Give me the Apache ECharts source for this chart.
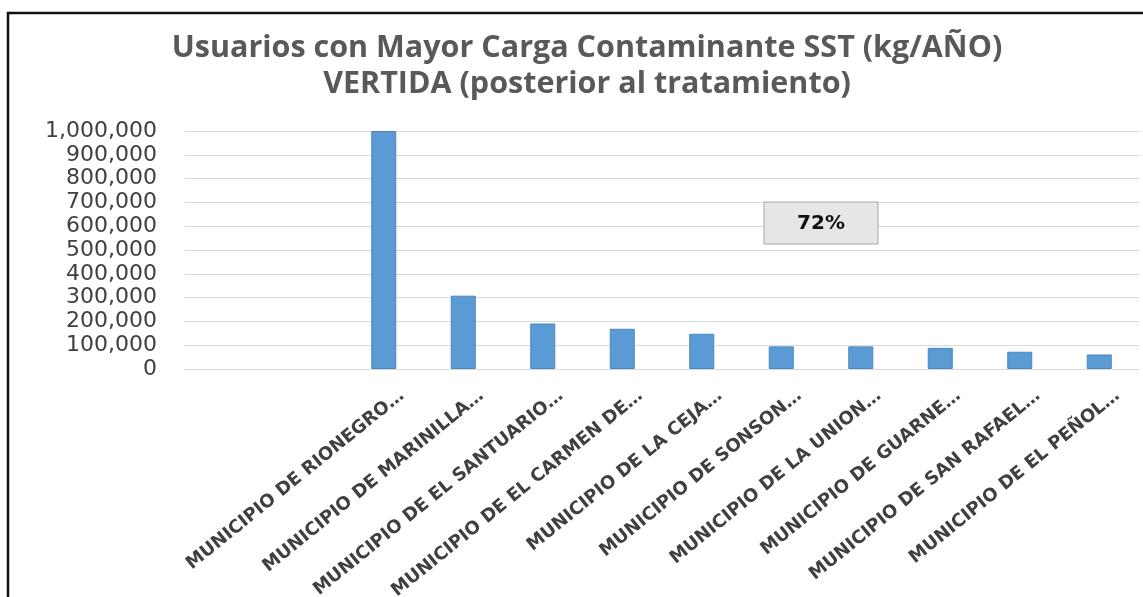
<!DOCTYPE html>
<html>
<head>
<meta charset="utf-8">
<title>Usuarios con Mayor Carga Contaminante SST</title>
<script src="https://cdn.jsdelivr.net/npm/echarts@6/dist/echarts.min.js"></script>
<style>
  html, body { margin: 0; padding: 0; background: #fff; }
  #chart { width: 1143px; height: 597px; }
</style>
</head>
<body>
<div id="chart"></div>
<script>
// municipios (las dos primeras categorias van vacias, como en la hoja)
var municipios = [
  '', '',
  'MUNICIPIO DE RIONEGRO…',
  'MUNICIPIO DE MARINILLA…',
  'MUNICIPIO DE EL SANTUARIO…',
  'MUNICIPIO DE EL CARMEN DE…',
  'MUNICIPIO DE LA CEJA…',
  'MUNICIPIO DE SONSON…',
  'MUNICIPIO DE LA UNION…',
  'MUNICIPIO DE GUARNE…',
  'MUNICIPIO DE SAN RAFAEL…',
  'MUNICIPIO DE EL PEÑOL…'
]
// carga SST vertida kg/año
var cargaSST = [null, null, 1000000, 308000, 191000, 169000, 148000, 95000, 95000, 89000, 72500, 61000]
var yTicks = [0, 100000, 200000, 300000, 400000, 500000, 600000, 700000, 800000, 900000, 1000000]
var porcentaje = '72%'

var chart = echarts.init(document.getElementById('chart'))

var option = {
  backgroundColor: '#fff',
  animation: false,
  title: {
    text: 'Usuarios con Mayor Carga Contaminante SST (kg/AÑO)\nVERTIDA (posterior al tratamiento)',
    left: 587,
    top: 30,
    textAlign: 'center',
    padding: 0,
    textStyle: {
      fontFamily: 'Open Sans',
      fontWeight: 'bold',
      fontSize: 30.5,
      lineHeight: 36,
      color: '#595959'
    }
  },
  grid: {
    left: 185,
    right: 4,
    top: 131,
    bottom: 228,
    containLabel: false,
    outerBoundsMode: 'none'
  },
  xAxis: {
    type: 'category',
    data: municipios,
    axisLine: { lineStyle: { color: '#d9d9d9', width: 1 } },
    axisTick: { show: false },
    axisLabel: {
      interval: 0,
      rotate: 39,
      margin: 2,
      verticalAlign: 'top',
      padding: [20, 0, 0, 0],
      fontFamily: 'DejaVu Sans',
      fontWeight: 'bold',
      fontSize: 18,
      color: '#404040'
    }
  },
  yAxis: {
    type: 'value',
    min: yTicks[0],
    max: yTicks[yTicks.length - 1],
    interval: yTicks[1] - yTicks[0],
    axisLine: { show: false },
    axisTick: { show: false },
    splitLine: { lineStyle: { color: '#d9d9d9', width: 1 } },
    axisLabel: {
      margin: 28,
      fontFamily: 'DejaVu Sans',
      fontSize: 22,
      color: '#404040',
      formatter: function(v) {
        return v.toLocaleString('en-US')
      }
    }
  },
  series: [
    {
      name: 'Carga SST',
      type: 'bar',
      data: cargaSST,
      barWidth: 25,
      itemStyle: {
        color: '#5b9bd5',
        borderColor: '#4a86bf',
        borderWidth: 1
      }
    }
  ],
  graphic: [
    {
      // marco del grafico
      type: 'rect',
      silent: true,
      shape: { x: 8, y: 13, width: 1300, height: 800 },
      style: { fill: 'none', stroke: '#111', lineWidth: 2.5 }
    },
    {
      // cuadro de texto con el porcentaje
      type: 'rect',
      z: 10,
      shape: { x: 764, y: 202, width: 114, height: 42 },
      style: { fill: '#e7e6e6', stroke: '#a6a6a6', lineWidth: 1 }
    },
    {
      type: 'text',
      z: 11,
      x: 821,
      y: 224,
      style: {
        text: porcentaje,
        fontFamily: 'DejaVu Sans',
        fontWeight: 'bold',
        fontSize: 20,
        fill: '#111',
        align: 'center',
        verticalAlign: 'middle'
      }
    }
  ]
}

chart.setOption(option)
</script>
</body>
</html>
